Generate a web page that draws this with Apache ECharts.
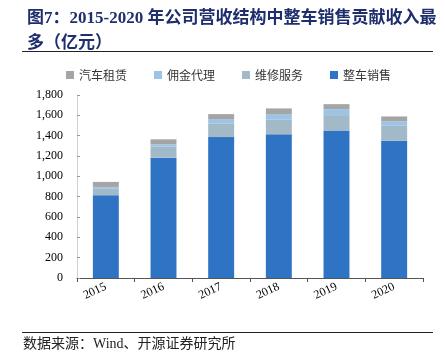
<!DOCTYPE html>
<html><head><meta charset="utf-8">
<script src="https://cdn.jsdelivr.net/npm/echarts@6/dist/echarts.min.js"></script>
<style>html,body{margin:0;padding:0;background:#fff}#c{width:445px;height:362px}</style>
</head><body><div id="c"></div>
<script>
var categories = ['2015','2016','2017','2018','2019','2020'];
var vehicleSales = [815, 1184, 1386, 1413, 1452, 1350];
var repairService = [62, 107, 135, 143, 150, 147];
var commission = [19, 24, 42, 56, 59, 43];
var carRental = [49, 49, 49, 56, 49, 49];
var yTicks = [0, 200, 400, 600, 800, 1000, 1200, 1400, 1600, 1800];

var serif = '"Liberation Serif","Noto Sans CJK SC",serif';
var chart = echarts.init(document.getElementById('c'));
chart.setOption({
  animation: false,
  title: {
    text: '图7：2015-2020 年公司营收结构中整车销售贡献收入最\n多（亿元）',
    left: 22, top: 1,
    textStyle: {fontFamily: serif, fontWeight: 'bold', fontSize: 17, color: '#1f2f6e', lineHeight: 25}
  },
  legend: {
    left: 61, top: 64, itemWidth: 8, itemHeight: 8, itemGap: 27, icon: 'rect',
    textStyle: {fontFamily: '"Noto Sans CJK SC"', fontSize: 12, color: '#333'},
    data: ['汽车租赁','佣金代理','维修服务','整车销售']
  },
  grid: {left: 77, right: 22, top: 95, bottom: 84},
  xAxis: {
    type: 'category', data: categories,
    axisLine: {lineStyle: {color: '#555'}},
    axisTick: {show: true, length: 4, lineStyle: {color: '#555'}},
    axisLabel: {rotate: 25, fontFamily: serif, fontSize: 12, color: '#000', margin: 8}
  },
  yAxis: {
    type: 'value', min: yTicks[0], max: yTicks[yTicks.length-1], interval: 200,
    axisLine: {show: true, lineStyle: {color: '#d0d0d0'}},
    axisTick: {show: true, inside: true, length: 3, lineStyle: {color: '#999'}},
    splitLine: {show: false},
    axisLabel: {fontFamily: serif, fontSize: 12, color: '#000', margin: 14,
      formatter: function(v){return v.toLocaleString('en-US');}}
  },
  series: [
    {name: '整车销售', type: 'bar', stack: 't', data: vehicleSales, barWidth: '45%', itemStyle: {color: '#2e73c4'}},
    {name: '维修服务', type: 'bar', stack: 't', data: repairService, itemStyle: {color: '#a2b9c7'}},
    {name: '佣金代理', type: 'bar', stack: 't', data: commission, itemStyle: {color: '#9dc3e6'}},
    {name: '汽车租赁', type: 'bar', stack: 't', data: carRental, itemStyle: {color: '#a5a5a5'}}
  ],
  graphic: [
    {type: 'line', shape: {x1: 22, y1: 51.5, x2: 433, y2: 51.5}, style: {stroke: '#222', lineWidth: 1}},
    {type: 'line', shape: {x1: 22, y1: 332.5, x2: 433, y2: 332.5}, style: {stroke: '#222', lineWidth: 1}},
    {type: 'text', left: 23, top: 337, style: {text: '数据来源：Wind、开源证券研究所', font: '14px "Liberation Serif","Noto Sans CJK SC"', fill: '#222'}}
  ]
});
</script></body></html>
